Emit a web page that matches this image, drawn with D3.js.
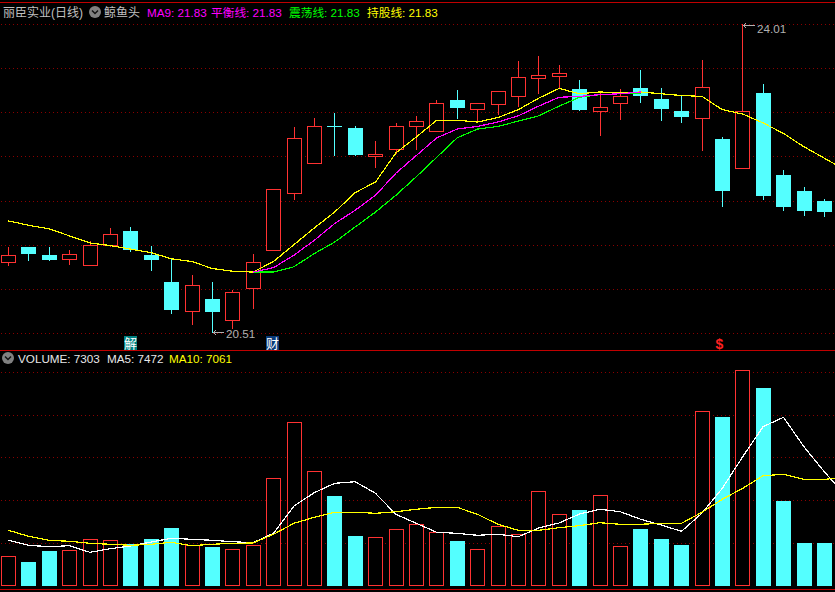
<!DOCTYPE html>
<html><head><meta charset="utf-8">
<style>html,body{margin:0;padding:0;background:#000;overflow:hidden}svg{display:block}
text{font-family:"Liberation Sans",Arial,"Noto Sans CJK SC",sans-serif;font-size:11.7px}</style>
<script src="https://cdnjs.cloudflare.com/ajax/libs/d3/7.8.5/d3.min.js"></script></head><body>
<script>
const high=[21.48,21.48,21.48,21.45,21.55,21.70,21.71,21.50,21.36,21.17,21.09,21.00,21.41,22.14,22.84,22.95,23.00,22.85,22.69,22.89,22.97,23.15,23.26,23.11,23.25,23.59,23.65,23.55,23.38,23.23,23.27,23.49,23.29,23.19,23.60,22.73,24.01,23.33,22.36,22.16,22.03];
const low=[21.27,21.32,21.32,21.28,21.28,21.48,21.43,21.21,20.73,20.60,20.51,20.56,20.78,21.45,22.02,22.44,22.52,22.52,22.38,22.54,22.58,22.80,22.93,22.89,22.98,23.07,23.22,23.29,23.02,22.74,22.92,23.12,22.91,22.89,22.57,21.94,22.38,22.02,21.89,21.84,21.82];
const open=[21.31,21.48,21.39,21.35,21.28,21.51,21.67,21.39,21.09,20.76,20.90,20.66,21.02,21.45,22.10,22.44,22.85,22.83,22.52,22.59,22.85,22.80,23.15,23.05,23.10,23.19,23.40,23.42,23.27,23.02,23.11,23.29,23.16,23.02,22.95,22.71,22.38,23.23,22.30,22.12,22.01];
const close=[21.39,21.41,21.34,21.41,21.51,21.63,21.45,21.34,20.77,21.05,20.75,20.97,21.31,22.14,22.72,22.85,22.84,22.53,22.54,22.85,22.91,23.12,23.06,23.11,23.25,23.41,23.43,23.46,23.04,23.07,23.19,23.19,23.05,22.96,23.30,22.12,23.03,22.06,21.94,21.89,21.88];
const holdLine=[21.78,21.73,21.69,21.61,21.53,21.50,21.46,21.42,21.35,21.32,21.24,21.21,21.20,21.32,21.51,21.70,21.88,22.10,22.22,22.55,22.73,22.92,22.92,22.90,22.95,23.04,23.17,23.28,23.22,23.24,23.23,23.24,23.22,23.20,23.19,23.04,22.99,22.89,22.77,22.62,22.49,22.36];
const balanceLine=[null,null,null,null,null,null,null,null,null,null,null,null,21.20,21.25,21.39,21.56,21.75,21.90,22.07,22.32,22.52,22.72,22.82,22.85,22.90,22.97,23.08,23.18,23.19,23.21,23.22,23.24];
const swingLine=[null,null,null,null,null,null,null,null,null,null,null,null,21.20,21.20,21.26,21.41,21.54,21.71,21.88,22.07,22.28,22.50,22.72,22.82,22.85,22.91,22.97,23.08,23.18,23.21,23.22,23.22];
const volume=[5049,4080,5950,6120,7939,7769,7089,7990,9860,6919,6630,6239,6919,18309,27880,19499,15300,8500,8279,9639,10489,9129,7650,6239,10149,8789,16099,12189,12920,15419,6749,9690,7990,6970,29699,28730,36669,33660,14450,7310,7303];
const volMA5=[7769,6919,6681,6851,5729,6341,6800,7480,8109,7939,7769,7531,7361,8959,13600,15861,17459,17731,15759,12189,10659,9129,8959,8619,8789,8381,9860,10710,12240,13039,12631,11339,10370,9299,12359,16609,21981,27081,28679,23681,19431,15470];
const volMA10=[9469,8449,7769,7599,7259,7089,6919,7089,7429,6851,7089,7259,7310,8789,10659,11679,12529,12529,12359,12631,13039,13379,13379,12189,10489,9469,9469,9911,10251,10761,10489,10489,10659,10659,12529,14739,16609,18751,18989,18139,18139,18411];
const priceTicks=[20.51,21.01,21.51,22.01,22.51,23.01,23.51,24.01];
const volTicks=[7350,14600,21850,29100,36350];
const titleParts=[["丽臣实业(日线)",3,"#c0c0c0"],["鲸鱼头",104,"#c0c0c0"],["MA9: 21.83",147,"#ff00ff"],["平衡线: 21.83",211,"#ff00ff"],["震荡线: 21.83",289,"#00ff00"],["持股线: 21.83",367,"#ffff00"]];
const volParts=[["VOLUME: 7303",18,"#e8e8e8"],["MA5: 7472",107,"#e8e8e8"],["MA10: 7061",169,"#ffff00"]];

const W=835,H=592,RED="#ff3232",CYAN="#54ffff";
const x=d3.scaleLinear().domain([0,40]).range([8.3,824.3]);
const y=d3.scaleLinear().domain([20.51,24.01]).range([333,24]);
const yv=d3.scaleLinear().domain([0,36550]).range([586,371]);
const left=i=>Math.round(x(i)-7.3);
const px=v=>Math.round(v)+.5;
const svg=d3.select("body").append("svg").attr("width",W).attr("height",H);

const grid=svg.append("g").attr("stroke","#8a0000").attr("stroke-dasharray","1 3").attr("shape-rendering","crispEdges");
priceTicks.forEach(t=>grid.append("line").attr("x1",1).attr("x2",W).attr("y1",px(y(t))).attr("y2",px(y(t))));
volTicks.forEach(t=>grid.append("line").attr("x1",1).attr("x2",W).attr("y1",px(yv(t))).attr("y2",px(yv(t))));

const frame=svg.append("g").attr("stroke","#c00000").attr("shape-rendering","crispEdges");
[2.5,350.5,589.5].forEach(v=>frame.append("line").attr("x1",0).attr("x2",W).attr("y1",v).attr("y2",v));

const candles=svg.append("g").attr("shape-rendering","crispEdges");
d3.range(open.length).forEach(i=>{
  const up=close[i]>=open[i],c=up?RED:CYAN,l=left(i),g=candles.append("g");
  g.append("line").attr("x1",l+7.5).attr("x2",l+7.5).attr("y1",y(high[i])).attr("y2",y(low[i])).attr("stroke",c);
  const t=Math.round(y(Math.max(open[i],close[i]))),b=Math.round(y(Math.min(open[i],close[i])));
  if(up) g.append("rect").attr("x",l+.5).attr("y",t+.5).attr("width",14).attr("height",Math.max(b-t,1)).attr("fill","#000").attr("stroke",c);
  else g.append("rect").attr("x",l).attr("y",t).attr("width",15).attr("height",Math.max(b-t,1)).attr("fill",c);
});

const bars=svg.append("g").attr("shape-rendering","crispEdges");
volume.forEach((v,i)=>{
  const up=close[i]>=open[i],l=left(i),t=Math.round(yv(v)),b=yv(0);
  if(up) bars.append("rect").attr("x",l+.5).attr("y",t+.5).attr("width",14).attr("height",b-t-1).attr("fill","#000").attr("stroke",RED);
  else bars.append("rect").attr("x",l).attr("y",t).attr("width",15).attr("height",b-t).attr("fill",CYAN);
});

const line=sc=>d3.line().defined(d=>d!=null).x((d,i)=>x(i)).y(d=>sc(d));
const path=(data,sc,c)=>svg.append("path").datum(data).attr("d",line(sc)).attr("fill","none").attr("stroke",c).attr("stroke-width",1.2).attr("shape-rendering","crispEdges");
path(holdLine,y,"#ffff00");
path(swingLine,y,"#00ff00");
path(balanceLine,y,"#ff00ff");
path(volMA5,yv,"#ffffff");
path(volMA10,yv,"#ffff00");

titleParts.forEach(([s,xp,c])=>svg.append("text").attr("x",xp).attr("y",17).attr("fill",c).style("font-size",s.includes("丽")||s==="鲸鱼头"?"12px":null).text(s));
volParts.forEach(([s,xp,c])=>svg.append("text").attr("x",xp).attr("y",363).attr("fill",c).text(s));

const icon=(cx,cy)=>{svg.append("circle").attr("cx",cx).attr("cy",cy).attr("r",6).attr("fill","#808080");
  svg.append("path").attr("d",`M${cx-3} ${cy-1.5}L${cx} ${cy+1.5}L${cx+3} ${cy-1.5}`).attr("fill","none").attr("stroke","#111").attr("stroke-width",1.5);};
icon(95,12);icon(8,358);

const ann=(xp,yp,xe,s,tx,ty)=>{
  svg.append("path").attr("d",`M${xp} ${yp}H${xe}M${xp} ${yp}l3 -2M${xp} ${yp}l3 2`).attr("stroke","#b0b0b0").attr("fill","none").attr("shape-rendering","crispEdges");
  svg.append("text").attr("x",tx).attr("y",ty).attr("fill","#b0b0b0").text(s);
};
ann(213,332.5,224,"20.51",226,338);
ann(743,25.5,755,"24.01",757,33);

const badge=(xp,s,bg)=>{
  svg.append("rect").attr("x",xp).attr("y",336).attr("width",13).attr("height",14).attr("fill",bg);
  svg.append("text").attr("x",xp+6.5).attr("y",348).attr("text-anchor","middle").attr("fill","#fff").style("font-size","13px").style("font-family","'Noto Sans CJK SC'").text(s);
};
badge(124,"解","#008080");
badge(266,"财","#0a3a78");
svg.append("text").attr("x",719.5).attr("y",349).attr("text-anchor","middle").attr("fill","#ff2020").style("font-weight","bold").style("font-size","14px").text("$");
</script></body></html>
